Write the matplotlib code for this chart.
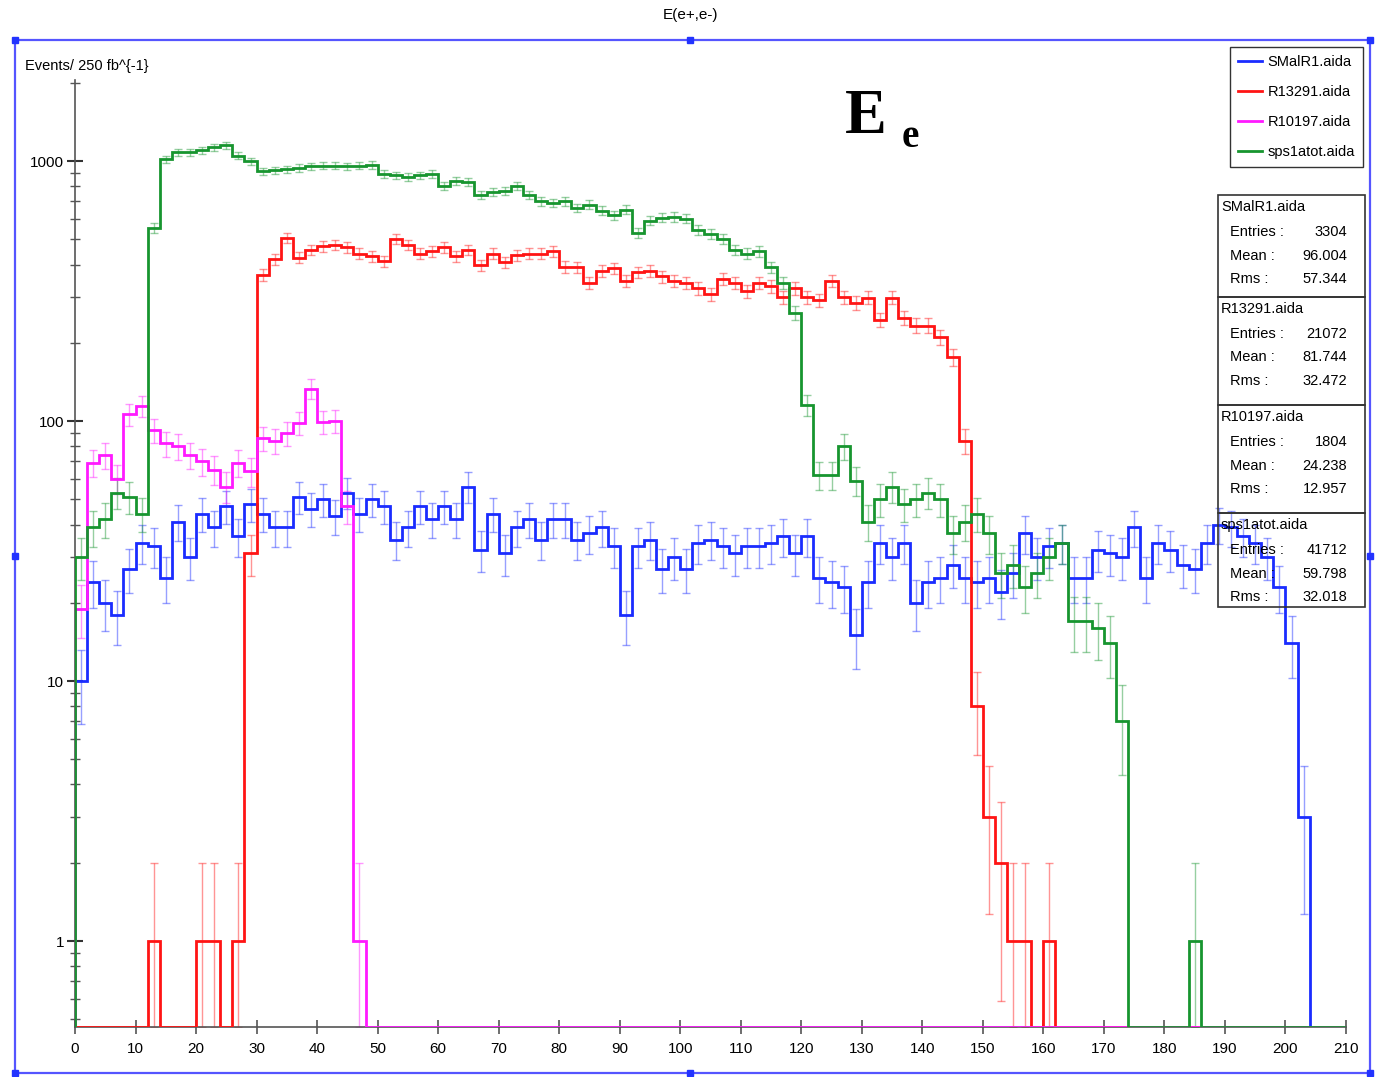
import numpy as np
import matplotlib.pyplot as plt
from matplotlib.patches import Rectangle
from matplotlib.lines import Line2D
from matplotlib.ticker import LogLocator, NullFormatter

plt.rcParams['font.family'] = ['Liberation Sans Narrow', 'Liberation Sans', 'DejaVu Sans']

# histogram binning: 105 bins of width 2 between 0 and 210
edges = np.arange(0, 212, 2)

names = ["SMalR1.aida", "R13291.aida", "R10197.aida", "sps1atot.aida"]
colors = ["#1a2cff", "#ff1414", "#ff1aff", "#17952f"]

smalr1 = [10, 24, 20, 18, 27, 34, 33, 25, 41, 30,
          44, 39, 47, 36, 48, 44, 39, 39, 51, 46,
          50, 43, 53, 44, 50, 47, 35, 39, 47, 42,
          47, 42, 56, 32, 44, 31, 39, 42, 35, 42,
          42, 35, 37, 39, 33, 18, 33, 35, 27, 30,
          27, 34, 35, 33, 31, 33, 33, 34, 36, 31,
          36, 25, 24, 23, 15, 24, 34, 30, 34, 20,
          24, 25, 28, 25, 24, 25, 22, 26, 37, 30,
          33, 34, 25, 25, 32, 31, 30, 39, 25, 34,
          32, 28, 27, 34, 40, 39, 36, 34, 30, 23,
          14, 3, 0, 0, 0]

r13291 = [0, 0, 0, 0, 0, 0, 1, 0, 0, 0,
          1, 1, 0, 1, 31, 365, 420, 505, 425, 455,
          470, 475, 466, 440, 430, 412, 500, 475, 440, 450,
          466, 430, 456, 397, 440, 408, 435, 440, 440, 450,
          392, 390, 341, 378, 387, 346, 373, 378, 360, 346,
          341, 324, 308, 353, 341, 316, 341, 330, 300, 324,
          300, 292, 346, 300, 285, 298, 245, 298, 250, 233,
          233, 210, 176, 84, 8, 3, 2, 1, 1, 0,
          1, 0, 0, 0, 0, 0, 0, 0, 0, 0,
          0, 0, 0, 0, 0, 0, 0, 0, 0, 0,
          0, 0, 0, 0, 0]

r10197 = [19, 69, 74, 60, 106, 114, 92, 82, 80, 74,
          70, 65, 56, 69, 64, 86, 84, 90, 98, 133,
          99, 100, 47, 1, 0, 0, 0, 0, 0, 0,
          0, 0, 0, 0, 0, 0, 0, 0, 0, 0,
          0, 0, 0, 0, 0, 0, 0, 0, 0, 0,
          0, 0, 0, 0, 0, 0, 0, 0, 0, 0,
          0, 0, 0, 0, 0, 0, 0, 0, 0, 0,
          0, 0, 0, 0, 0, 0, 0, 0, 0, 0,
          0, 0, 0, 0, 0, 0, 0, 0, 0, 0,
          0, 0, 0, 0, 0, 0, 0, 0, 0, 0,
          0, 0, 0, 0, 0]

sps1atot = [30, 39, 42, 53, 51, 44, 553, 1018, 1083, 1080,
            1100, 1130, 1150, 1050, 1000, 912, 920, 930, 940, 955,
            960, 960, 955, 960, 965, 890, 880, 870, 880, 890,
            805, 840, 830, 740, 760, 770, 800, 740, 700, 690,
            700, 660, 680, 645, 620, 650, 530, 590, 605, 610,
            600, 545, 525, 500, 456, 440, 450, 390, 340, 260,
            115, 62, 62, 80, 59, 41, 50, 56, 48, 50,
            53, 50, 37, 41, 44, 37, 26, 28, 23, 26,
            30, 34, 17, 17, 16, 14, 7, 0, 0, 0,
            0, 0, 1, 0, 0, 0, 0, 0, 0, 0,
            0, 0, 0, 0, 0]

entries = [3304, 21072, 1804, 41712]
means = ["96.004", "81.744", "24.238", "59.798"]
rms = ["57.344", "32.472", "12.957", "32.018"]

x_ticks = list(range(0, 211, 10))
y_ticks = [1, 10, 100, 1000]

W, H = 1375, 1077
YMIN, YMAX = 0.467, 2050


def fx(px):
    return px / W


def fy(py):
    return 1 - py / H


fig = plt.figure(figsize=(W / 100, H / 100), dpi=100)
ax = fig.add_axes([fx(75), fy(1027), fx(1346) - fx(75), fy(80) - fy(1027)])

centers = 0.5 * (edges[:-1] + edges[1:])
for vals, col in zip([smalr1, r13291, r10197, sps1atot], colors):
    v = np.array(vals, dtype=float)
    # empty bins sit on the bottom of the log axis
    ax.stairs(np.clip(v, YMIN, None), edges, baseline=YMIN,
              color=col, lw=2.0, zorder=3)
    m = v > 0
    err = np.sqrt(v[m])
    lo = np.minimum(err, v[m] - YMIN)
    ax.errorbar(centers[m], v[m], yerr=[lo, err], fmt='none',
                ecolor=col, elinewidth=1.0, capsize=3, alpha=0.45, zorder=2)

ax.set_yscale('log')
ax.set_xlim(0, 210)
ax.set_ylim(YMIN, YMAX)
ax.set_xticks(x_ticks)
ax.set_xticklabels([str(t) for t in x_ticks])
ax.set_yticks(y_ticks)
ax.set_yticklabels([str(t) for t in y_ticks])
ax.yaxis.set_minor_locator(LogLocator(base=10, subs=np.arange(2, 10)))
ax.yaxis.set_minor_formatter(NullFormatter())

for s in ['top', 'right']:
    ax.spines[s].set_visible(False)
for s in ['left', 'bottom']:
    ax.spines[s].set_color('#555555')
    ax.spines[s].set_linewidth(1.2)

ax.tick_params(axis='x', which='major', direction='inout', length=10,
               width=1.2, color='#555555', labelsize=11, pad=6)
ax.tick_params(axis='y', which='major', direction='inout', length=12,
               width=1.5, color='#333333', labelsize=11, pad=2)
ax.tick_params(axis='y', which='minor', direction='inout', length=7,
               width=1.0, color='#555555')

# legend
handles = [Line2D([], [], color=c, lw=2) for c in colors]
leg = ax.legend(handles, names, loc='upper right',
                bbox_to_anchor=(fx(1363), fy(47)), bbox_transform=fig.transFigure,
                fancybox=False, edgecolor='#333333', framealpha=1, fontsize=10.5,
                handlelength=1.6, handletextpad=0.4, labelspacing=1.1,
                borderpad=0.55, borderaxespad=0)
leg.get_frame().set_linewidth(1.0)

# statistics boxes
box_tops = [195, 297, 405, 513]
box_bottoms = [297, 405, 513, 607]
for i in range(4):
    top, bot = box_tops[i], box_bottoms[i]
    fig.add_artist(Rectangle((fx(1218), fy(bot)), fx(1365) - fx(1218), fy(top) - fy(bot),
                             transform=fig.transFigure, fill=False,
                             edgecolor='#333333', lw=1.2, zorder=1))
    fig.text(fx(1221), fy(top + 12), names[i], fontsize=10.5, va='center', ha='left')
    rows = [("Entries :", str(entries[i])), ("Mean :", means[i]), ("Rms :", rms[i])]
    for k, (lab, val) in enumerate(rows):
        yy = fy(top + 37 + 23.5 * k)
        fig.text(fx(1230), yy, lab, fontsize=10.5, va='center', ha='left')
        fig.text(fx(1347), yy, val, fontsize=10.5, va='center', ha='right')

# outer frame with handles
fig.add_artist(Rectangle((fx(15), fy(1073)), fx(1370) - fx(15), fy(40) - fy(1073),
                         transform=fig.transFigure, fill=False,
                         edgecolor='#5555ff', lw=1.6))
for hx in [15, 690, 1370]:
    for hy in [40, 556, 1073]:
        if hx == 690 and hy == 556:
            continue
        fig.add_artist(Line2D([fx(hx)], [fy(hy)], marker='s', markersize=4,
                              color='#2233ff', transform=fig.transFigure))

fig.text(fx(690), fy(15), "E(e+,e-)", fontsize=11, ha='center', va='center')
fig.text(fx(25), fy(66), "Events/ 250 fb^{-1}", fontsize=10.5, ha='left', va='center')

fig.text(fx(845), fy(133), "E", fontsize=45, fontweight='bold',
         family='Liberation Serif', ha='left', va='baseline')
fig.text(fx(902), fy(147), "e", fontsize=28, fontweight='bold',
         family='Liberation Serif', ha='left', va='baseline')

fig.savefig("out.png", dpi=100)
